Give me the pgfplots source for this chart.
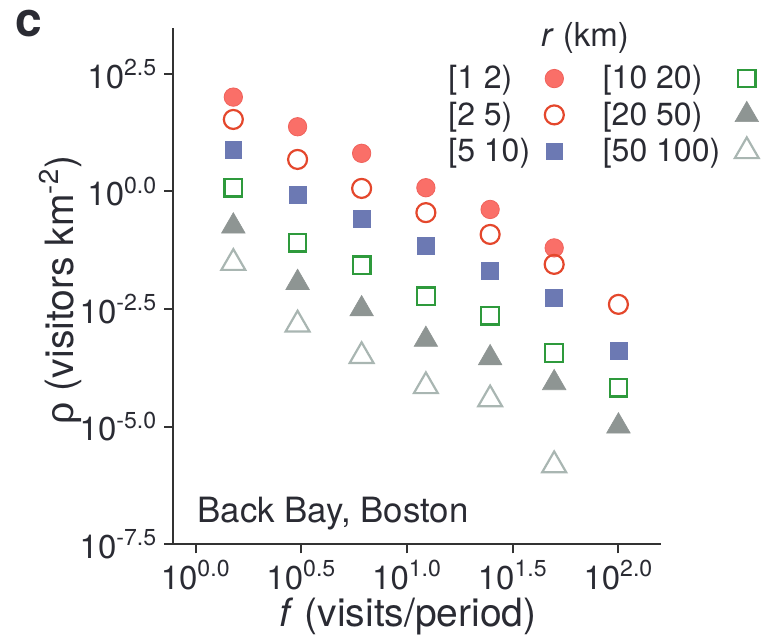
\documentclass[border=0pt]{standalone}
\usepackage{fontspec}
\setmainfont{TeX Gyre Heros}
\newfontfamily\greekfont{Liberation Sans}
\usepackage{pgfplots}
\pgfplotsset{compat=1.18}
\usetikzlibrary{calc}
\definecolor{ctext}{HTML}{2A2B33}
\definecolor{caxis}{HTML}{333333}
\definecolor{cA}{HTML}{FA6F68}
\definecolor{cAe}{HTML}{F0625B}
\definecolor{cB}{HTML}{E4472C}
\definecolor{cC}{HTML}{6C79B3}
\definecolor{cD}{HTML}{2E9A3C}
\definecolor{cE}{HTML}{8E9593}
\definecolor{cF}{HTML}{A9B6B2}
\newcommand{\tp}[1]{\textsuperscript{#1}}
\newcommand{\fs}[1]{\fontsize{#1}{1.2\dimexpr#1pt\relax}\selectfont}
\begin{document}
\begin{tikzpicture}[font=\color{ctext}]
\begin{axis}[name=ax, scale only axis, width=243.7pt, height=258.2pt,
  xmin=-0.106, xmax=2.2, ymin=-7.5, ymax=3.476,
  axis x line*=bottom, axis y line*=left,
  axis line style={caxis, line width=1pt},
  tick style={caxis, line width=1pt}, tick align=outside, major tick length=4.5pt,
  xtick={0,0.5,1,1.5,2}, xticklabels={10\tp{0.0},10\tp{0.5},10\tp{1.0},10\tp{1.5},10\tp{2.0}},
  ytick={-7.5,-5,-2.5,0,2.5}, yticklabels={10\tp{-7.5},10\tp{-5.0},10\tp{-2.5},10\tp{0.0},10\tp{2.5}},
  tick label style={font=\fs{16.5}\color{ctext}},
  xlabel={\textit{f} (visits/period)}, ylabel={{\greekfont ρ} (visitors km\tp{-2})},
  label style={font=\fs{19.5}\color{ctext}},
  xlabel style={at={(axis description cs:0.482,-0.139)}, anchor=center},
  ylabel style={at={(axis description cs:-0.232,0.4926)}, anchor=center},
  clip=false,
  legend columns=2, legend plot pos=right, legend cell align=left,
  legend image code/.code={\draw[#1] plot coordinates {(0pt,0pt)};},
  legend style={at={(rel axis cs:0.5595,0.932)}, anchor=north west, draw=none, fill=none,
    font=\fs{16}\color{ctext}, inner sep=0pt, row sep=3pt,
    nodes={inner sep=1pt},
    /tikz/every odd column/.append style={column sep=6.3pt},
    /tikz/every even column/.append style={column sep=18.5pt}},
]
\addplot[only marks, mark=*, mark size=4.6pt, mark options={fill=cA, draw=cAe, line width=0.4pt}]
  coordinates {(0.178,2.005) (0.482,1.375) (0.785,0.81) (1.089,0.079) (1.393,-0.383) (1.696,-1.20)};
\addlegendentry{[1 2)}
\addplot[only marks, mark=square, mark size=4.4pt, mark options={draw=cD, line width=1.1pt}]
  coordinates {(0.178,0.079) (0.482,-1.09) (0.785,-1.57) (1.089,-2.23) (1.393,-2.64) (1.696,-3.43) (2.0,-4.17)};
\addlegendentry{[10 20)}
\addplot[only marks, mark=o, mark size=4.75pt, mark options={draw=cB, line width=1.1pt}]
  coordinates {(0.178,1.53) (0.482,0.68) (0.785,0.064) (1.089,-0.45) (1.393,-0.914) (1.696,-1.55) (2.0,-2.40)};
\addlegendentry{[2 5)}
\addplot[only marks, mark=triangle*, mark size=6.8pt, mark options={fill=cE, draw=cE, line width=0.3pt}]
  coordinates {(0.178,-0.74) (0.482,-1.94) (0.785,-2.50) (1.089,-3.15) (1.393,-3.54) (1.696,-4.07) (2.0,-4.99)};
\addlegendentry{[20 50)}
\addplot[only marks, mark=square*, mark size=4.2pt, mark options={fill=cC, draw=cC, line width=0.3pt}]
  coordinates {(0.178,0.893) (0.482,-0.064) (0.785,-0.574) (1.089,-1.16) (1.393,-1.69) (1.696,-2.26) (2.0,-3.39)};
\addlegendentry{[5 10)}
\addplot[only marks, mark=triangle, mark size=6.9pt, mark options={draw=cF, line width=1.1pt}]
  coordinates {(0.178,-1.52) (0.482,-2.83) (0.785,-3.50) (1.089,-4.14) (1.393,-4.42) (1.696,-5.82)};
\addlegendentry{[50 100)}
\node[font=\fs{16.5}\color{ctext}, anchor=center] at (rel axis cs:0.8446,0.98) {\textit{r} (km)};
\node[font=\fs{17.4}\color{ctext}, anchor=base west, inner sep=0pt] at (rel axis cs:0.049,0.042) {Back Bay, Boston};
\node[font=\fs{24}\bfseries\color{ctext}, anchor=base west, inner sep=0pt] at (rel axis cs:-0.325,0.9826) {c};
\end{axis}
\pgfresetboundingbox
\useasboundingbox ($(ax.south west)+(-86.65pt,-47.35pt)$) rectangle ($(ax.south west)+(297.85pt,272.15pt)$);
\end{tikzpicture}
\end{document}
